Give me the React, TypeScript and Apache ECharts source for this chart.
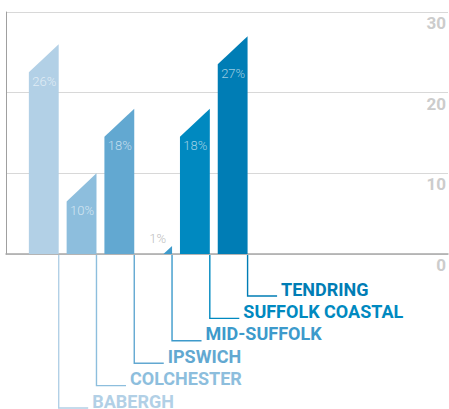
import React, { useEffect, useRef } from "react";
import * as echarts from "echarts";

const categories = ["BABERGH", "COLCHESTER", "IPSWICH", "MID-SUFFOLK", "SUFFOLK COASTAL", "TENDRING"];
const values = [26, 10, 18, 1, 18, 27];
const percentLabels = ["26%", "10%", "18%", "1%", "18%", "27%"];
const yTicks = [0, 10, 20, 30];

const COLORS = ["#b2d0e6", "#8dbedd", "#62a8d1", "#3d9acb", "#0089c0", "#007db5"];
const BAR_W = 0.79;

export default function App() {
  const ref = useRef<HTMLDivElement>(null);
  useEffect(() => {
    document.body.style.margin = "0";
    const chart = echarts.init(ref.current!, null, { renderer: "svg" });
    const n = categories.length;
    const option: any = {
      animation: false,
      grid: { left: 6, right: 0, top: 12, bottom: 155 },
      xAxis: {
        type: "value",
        min: -1,
        max: 10.7,
        axisLine: { show: true, onZero: false, lineStyle: { color: "#a8a8a8", width: 1.5 } },
        axisTick: { show: false },
        axisLabel: { show: false },
        splitLine: { show: false },
      },
      yAxis: [
        {
          type: "value",
          position: "right",
          min: yTicks[0],
          max: yTicks[yTicks.length - 1],
          interval: 10,
          axisLine: { show: false },
          axisTick: { show: false },
          splitLine: { show: true, lineStyle: { color: "#d8d8d8", width: 1.2 } },
          axisLabel: {
            inside: true,
            margin: 2,
            color: "#cccccc",
            fontFamily: "Roboto",
            fontWeight: "bold",
            fontSize: 17,
            verticalAlign: "top",
            lineHeight: 22,
          },
        },
        {
          type: "value",
          position: "left",
          min: yTicks[0],
          max: yTicks[yTicks.length - 1],
          interval: 10,
          axisLine: { show: true, lineStyle: { color: "#a0a0a0", width: 1 } },
          axisTick: { show: false },
          axisLabel: { show: false },
          splitLine: { show: false },
        },
      ],
      series: [
        {
          type: "custom",
          clip: false,
          data: values.map((v, i) => [i, v]),
          renderItem: (params: any, api: any) => {
            const i = params.dataIndex;
            const x = api.value(0);
            const v = api.value(1);
            const base = api.coord([x, 0]);
            const top = api.coord([x, v]);
            const w = api.size([BAR_W, 0])[0];
            const xl = base[0] - w / 2;
            const xr = base[0] + w / 2;
            const slant = w * 0.94;
            const h = base[1] - top[1];
            let pts: number[][];
            if (h >= slant) {
              pts = [[xl, base[1]], [xl, top[1] + slant], [xr, top[1]], [xr, base[1]]];
            } else {
              pts = [[xr - (h * w) / slant, base[1]], [xr, top[1]], [xr, base[1]]];
            }
            const color = COLORS[i];
            const children: any[] = [
              { type: "polygon", shape: { points: pts }, style: { fill: color } },
            ];
            const inside = h > slant + 20;
            children.push({
              type: "text",
              style: {
                text: percentLabels[i],
                x: base[0] + 0.5,
                y: inside ? top[1] + slant + 9 : top[1] - 7.5,
                align: "center",
                verticalAlign: "middle",
                fill: inside ? "rgba(255,255,255,0.62)" : "#bdbdbd",
                font: "300 13px Roboto",
              },
            });
            const lineY = base[1] + 42 + (n - 1 - i) * 22.4;
            children.push({
              type: "polyline",
              shape: { points: [[xr, base[1] + 1], [xr, lineY], [xr + 29.5, lineY]] },
              style: { stroke: color, lineWidth: 1.4, fill: "none" },
            });
            children.push({
              type: "text",
              style: {
                text: categories[i],
                x: xr + 33.5,
                y: lineY - 7,
                align: "left",
                verticalAlign: "middle",
                lineHeight: 14,
                fill: color,
                font: "bold 18px Roboto",
              },
            });
            return { type: "group", children };
          },
        },
      ],
    };
    chart.setOption(option);
    return () => chart.dispose();
  }, []);
  return <div ref={ref} style={{ width: 449, height: 409 }} />;
}
